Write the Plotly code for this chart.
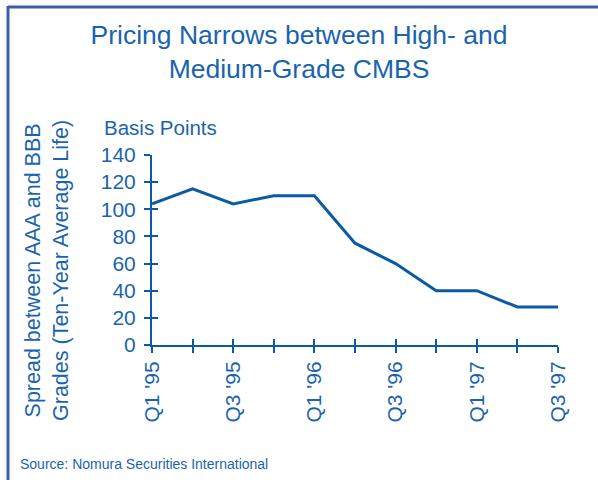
import plotly.graph_objects as go

# Data
quarters = ["Q1 '95", "Q2 '95", "Q3 '95", "Q4 '95", "Q1 '96", "Q2 '96",
            "Q3 '96", "Q4 '96", "Q1 '97", "Q2 '97", "Q3 '97"]
spread_bp = [104, 115, 104, 110, 110, 75, 60, 40, 40, 28, 28]
tick_labels = [q if i % 2 == 0 else "" for i, q in enumerate(quarters)]
y_ticks = [0, 20, 40, 60, 80, 100, 120, 140]

TEXT = "#1a64ae"
LINE = "#0b5aa5"
BORDER = "#3d5ea9"
FONT = "Liberation Sans, Arial, sans-serif"

W, H = 598, 480
L, R, T, B = 152, 40, 155, 135
pw, ph = W - L - R, H - T - B


def px(x):
    return (x - L) / pw


def py(y):
    return (H - B - y) / ph


x_idx = list(range(len(quarters)))

fig = go.Figure()
fig.add_trace(go.Scatter(
    x=x_idx, y=spread_bp, mode="lines",
    line=dict(color=LINE, width=3),
    hoverinfo="skip", showlegend=False,
))
# invisible trace so the overlay axes (inside half of the cross ticks) render
fig.add_trace(go.Scatter(
    x=x_idx, y=spread_bp, mode="lines", xaxis="x2", yaxis="y2",
    line=dict(width=0), opacity=0, hoverinfo="skip", showlegend=False,
))

axis_common = dict(showgrid=False, zeroline=False, tickcolor=LINE,
                   tickwidth=1.5, ticklen=6)

fig.update_layout(
    width=W, height=H,
    margin=dict(l=L, r=R, t=T, b=B),
    plot_bgcolor="white", paper_bgcolor="white",
    font=dict(family=FONT, color=TEXT),
    title=dict(
        text="Pricing Narrows between High- and<br>Medium-Grade CMBS",
        x=0.5, xref="container", xanchor="center",
        y=1 - 44 / H, yref="container", yanchor="middle",
        font=dict(size=26.5, color=TEXT, family=FONT),
    ),
    xaxis=dict(
        range=[0, len(quarters) - 1], tickmode="array",
        tickvals=x_idx, ticktext=tick_labels, tickangle=-90,
        ticks="outside", showline=True, linecolor=LINE, linewidth=2,
        tickfont=dict(size=21, color=TEXT), **axis_common,
    ),
    yaxis=dict(
        range=[0, 140], tickmode="array", tickvals=y_ticks,
        ticks="outside", showline=True, linecolor=LINE, linewidth=2,
        ticklabelstandoff=4,
        tickfont=dict(size=21, color=TEXT), **axis_common,
    ),
    xaxis2=dict(
        overlaying="x", range=[0, len(quarters) - 1], tickmode="array",
        tickvals=x_idx, ticks="inside", showticklabels=False,
        showline=False, side="bottom", **axis_common,
    ),
    yaxis2=dict(
        overlaying="y", range=[0, 140], tickmode="array", tickvals=y_ticks,
        ticks="inside", showticklabels=False, showline=False,
        side="left", **axis_common,
    ),
)

# y-axis title, "Basis Points" unit label and source note
fig.add_annotation(
    text="Spread between AAA and BBB<br>Grades (Ten-Year Average Life)",
    textangle=-90, xref="paper", yref="paper",
    x=px(47), y=py(271), xanchor="center", yanchor="middle",
    showarrow=False, font=dict(size=21.5, color=TEXT),
)
fig.add_annotation(
    text="Basis Points", xref="paper", yref="paper",
    x=px(102), y=py(127), xanchor="left", yanchor="middle",
    showarrow=False, font=dict(size=20.5, color=TEXT),
)
fig.add_annotation(
    text="Source: Nomura Securities International", xref="paper", yref="paper",
    x=px(18), y=py(464), xanchor="left", yanchor="middle",
    showarrow=False, font=dict(size=14, color=TEXT),
)

# frame lines on the top and left edges
fig.add_shape(type="line", xref="paper", yref="paper",
              x0=px(8), x1=px(W + 2), y0=py(7), y1=py(7),
              line=dict(color=BORDER, width=3))
fig.add_shape(type="line", xref="paper", yref="paper",
              x0=px(8), x1=px(8), y0=py(6), y1=py(H + 2),
              line=dict(color=BORDER, width=3))

# drop the default 8px page margin so the figure sits at the window origin
fig.write_html("out.html", config={"displayModeBar": False},
               post_script="document.body.style.margin='0px';")
